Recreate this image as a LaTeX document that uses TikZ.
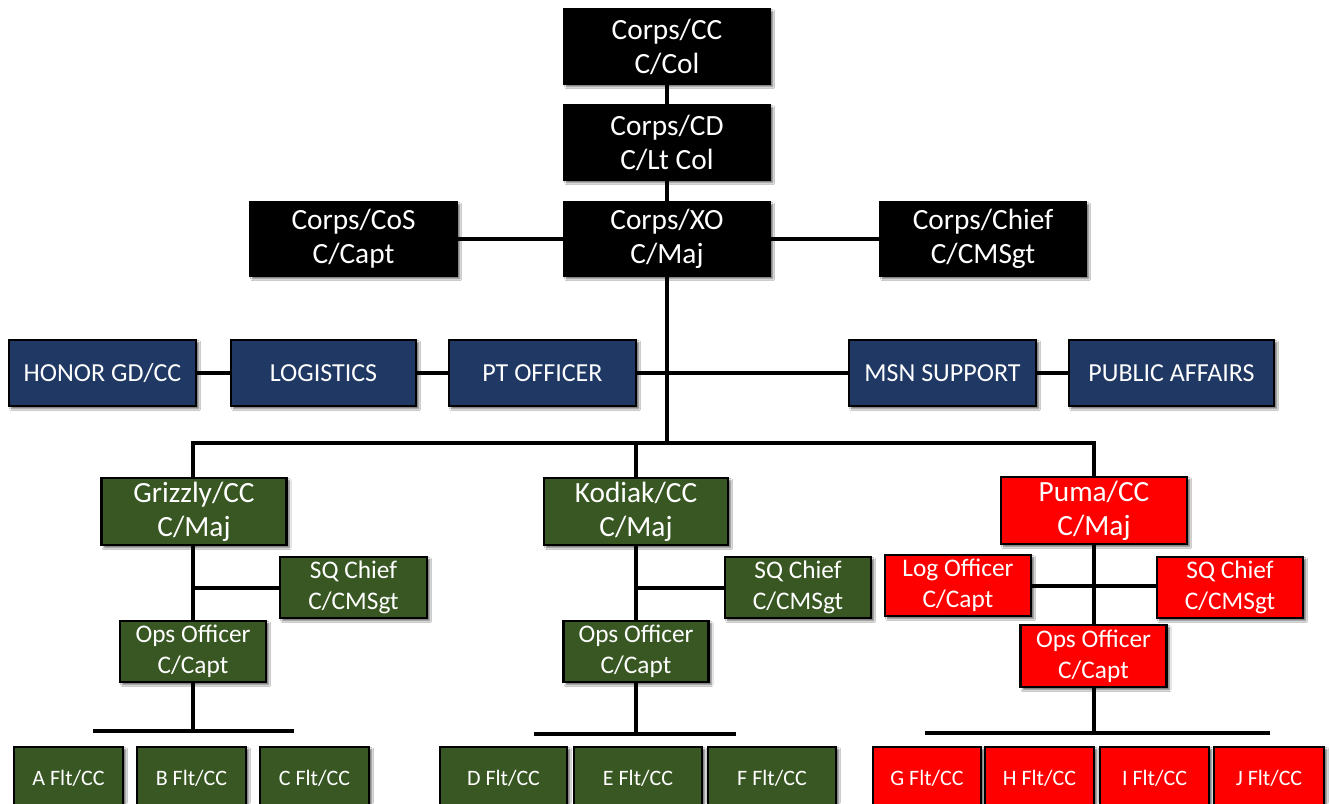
\documentclass[tikz,border=0pt]{standalone}
\usepackage{fontspec}
\setmainfont{Carlito}
\usetikzlibrary{shadows.blur}
\definecolor{navy}{HTML}{203864}
\definecolor{armygreen}{HTML}{385723}
\definecolor{brightred}{HTML}{FF0000}
\tikzset{
  base/.style={draw=black, line width=2.2pt, text=white, align=center, inner sep=0pt,
    blur shadow={shadow xshift=2pt, shadow yshift=-2pt, shadow blur steps=6, shadow blur radius=1.5pt, shadow opacity=60}},
  blk/.style={base, fill=black, font=\fontsize{22}{25.5}\selectfont},
  nav/.style={base, fill=navy, font=\fontsize{19.5}{23}\selectfont},
  grnbig/.style={base, fill=armygreen, font=\fontsize{22}{25.5}\selectfont},
  grn/.style={base, fill=armygreen, font=\fontsize{19}{23}\selectfont},
  grnflt/.style={base, fill=armygreen, font=\fontsize{16.5}{20}\selectfont},
  redbig/.style={base, fill=brightred, font=\fontsize{22}{25.5}\selectfont},
  rd/.style={base, fill=brightred, font=\fontsize{19}{23}\selectfont},
  redflt/.style={base, fill=brightred, font=\fontsize{16.5}{20}\selectfont},
  conn/.style={draw=black, line width=3pt},
  sz/.style 2 args={minimum width=#1*0.75pt, minimum height=#2*0.75pt}
}
\begin{document}
\begin{tikzpicture}[x=0.75pt,y=-0.75pt]
\useasboundingbox[fill=white] (0,0) rectangle (1330,803);
% top
\node[blk, sz={206}{75}] (cc) at (667,46.5) {Corps/CC\\C/Col};
\node[blk, sz={206}{75}] (cd) at (667,142.5) {Corps/CD\\C/Lt Col};
\node[blk, sz={206}{74}] (xo) at (667,239) {Corps/XO\\C/Maj};
\node[blk, sz={207}{74}] (cos) at (353.5,239) {Corps/CoS\\C/Capt};
\node[blk, sz={206}{74}] (chief) at (983,239) {Corps/Chief\\C/CMSgt};
% staff
\node[nav, sz={187}{66}] (honor) at (102.5,373) {HONOR GD/CC};
\node[nav, sz={185}{66}] (log) at (323.5,373) {LOGISTICS};
\node[nav, sz={187}{66}] (pt) at (542.5,373) {PT OFFICER};
\node[nav, sz={187}{66}] (msn) at (942.5,373) {MSN SUPPORT};
\node[nav, sz={205}{66}] (pa) at (1171.5,373) {PUBLIC AFFAIRS};
% squadrons
\node[grnbig, sz={185}{67}] (griz) at (194,511.5) {Grizzly/CC\\C/Maj};
\node[grn, sz={147}{61}] (gsq) at (353.5,587.5) {SQ Chief\\C/CMSgt};
\node[grn, sz={146}{61}] (gops) at (193,651.5) {Ops Officer\\C/Capt};
\node[grnbig, sz={184}{67}] (kod) at (636,511.5) {Kodiak/CC\\C/Maj};
\node[grn, sz={146}{61}] (ksq) at (798,587.5) {SQ Chief\\C/CMSgt};
\node[grn, sz={145}{61}] (kops) at (636,651.5) {Ops Officer\\C/Capt};
\node[redbig, sz={186}{67}] (puma) at (1094,510.5) {Puma/CC\\C/Maj};
\node[rd, sz={146}{61}] (plog) at (958,585.5) {Log Officer\\C/Capt};
\node[rd, sz={146}{61}] (psq) at (1230,587.5) {SQ Chief\\C/CMSgt};
\node[rd, sz={146}{62}] (pops) at (1093.5,656) {Ops Officer\\C/Capt};
% flights
\node[grnflt, sz={109}{62}] (fa) at (68.5,778) {A Flt/CC};
\node[grnflt, sz={109}{62}] (fb) at (191.5,778) {B Flt/CC};
\node[grnflt, sz={109}{62}] (fc) at (314.5,778) {C Flt/CC};
\node[grnflt, sz={127}{62}] (fd) at (503.5,778) {D Flt/CC};
\node[grnflt, sz={128}{62}] (fe) at (638,778) {E Flt/CC};
\node[grnflt, sz={128}{62}] (ff) at (772,778) {F Flt/CC};
\node[redflt, sz={108}{62}] (fg) at (927,778) {G Flt/CC};
\node[redflt, sz={109}{62}] (fh) at (1039.5,778) {H Flt/CC};
\node[redflt, sz={109}{62}] (fi) at (1154.5,778) {I Flt/CC};
\node[redflt, sz={110}{62}] (fj) at (1269,778) {J Flt/CC};
% coordinates
\coordinate (busC) at (667,443);
\coordinate (gbar) at (193,731);
\coordinate (gbarL) at (93,731);
\coordinate (gbarR) at (294,731);
\coordinate (kbar) at (636,734);
\coordinate (kbarL) at (534,734);
\coordinate (kbarR) at (736,734);
\coordinate (pbar) at (1094,733);
\coordinate (pbarL) at (925,733);
\coordinate (pbarR) at (1270,733);
% connectors
\draw[conn] (cc.south) -- (cd.north);
\draw[conn] (cd.south) -- (xo.north);
\draw[conn] (cos.east) -- (xo.west);
\draw[conn] (xo.east) -- (chief.west);
\draw[conn] (honor.east) -- (log.west);
\draw[conn] (log.east) -- (pt.west);
\draw[conn] (pt.east) -- (msn.west);
\draw[conn] (msn.east) -- (pa.west);
\draw[conn] (xo.south) -- (busC);
\draw[conn] (griz.north -| gbar) |- (busC) -| (puma.north);
\draw[conn] (kod.north) -- (kod.north |- busC);
\draw[conn] (griz.south -| gbar) -- (gops.north -| gbar);
\draw[conn] (gsq.west) -- (gsq.west -| gbar);
\draw[conn] (gops.south -| gbar) -- (gbar);
\draw[conn] (gbarL) -- (gbarR);
\draw[conn] (kod.south) -- (kops.north);
\draw[conn] (ksq.west) -- (ksq.west -| kod.south);
\draw[conn] (kops.south) -- (kbar);
\draw[conn] (kbarL) -- (kbarR);
\draw[conn] (puma.south) -- (pops.north -| puma.south);
\draw[conn] (plog.east) -- (plog.east -| psq.west);
\draw[conn] (pops.south -| pbar) -- (pbar);
\draw[conn] (pbarL) -- (pbarR);
\end{tikzpicture}
\end{document}
